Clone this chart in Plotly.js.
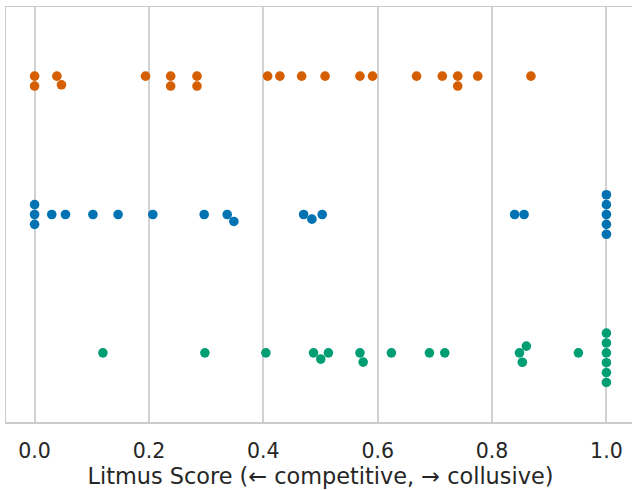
<!DOCTYPE html>
<html><head><meta charset="utf-8">
<script src="https://cdn.plot.ly/plotly-3.0.1.min.js"></script>
<style>html,body{margin:0;padding:0;overflow:hidden;background:#fff}#chart{width:635px;height:490px}</style>
</head><body><div id="chart"></div>
<script>
const categories = ["Group A", "Group B", "Group C"];
const colors = ["#d55e00", "#0173b2", "#029e73"];
const scoresA = [0.0, 0.0, 0.039, 0.047, 0.194, 0.238, 0.238, 0.284, 0.284, 0.4075, 0.429, 0.467, 0.508, 0.569, 0.591, 0.668, 0.713, 0.740, 0.740, 0.775, 0.868];
const scoresB = [0.0, 0.0, 0.0, 0.030, 0.054, 0.102, 0.146, 0.2067, 0.2966, 0.3368, 0.3485, 0.4705, 0.485, 0.503, 0.8395, 0.856, 1.0, 1.0, 1.0, 1.0, 1.0];
const scoresC = [0.1195, 0.2978, 0.4045, 0.4878, 0.5005, 0.5138, 0.569, 0.5746, 0.624, 0.6905, 0.7173, 0.848, 0.853, 0.860, 0.951, 1.0, 1.0, 1.0, 1.0, 1.0, 1.0];
const xTickVals = [0, 0.2, 0.4, 0.6, 0.8, 1.0];
const xTickText = ["0.0", "0.2", "0.4", "0.6", "0.8", "1.0"];
const xTitle = "Litmus Score (\u2190 competitive, \u2192 collusive)";

const W = 635, H = 490, M = {l: 6, r: 0, t: 7, b: 68};
const xRange = [-0.05, 1.05];
const pxPerX = (W - M.l - M.r) / (xRange[1] - xRange[0]);
const pxPerCat = (H - M.t - M.b) / categories.length;
const D = 9.4;

// seaborn-like beeswarm; offsets in display convention (up positive)
function beeswarm(values) {
  const idx = values.map((v, i) => i).sort((a, b) => values[a] - values[b] || a - b);
  const placed = [];
  const offs = new Array(values.length);
  for (const i of idx) {
    const x = values[i] * pxPerX;
    const nb = placed.filter(p => Math.abs(p.x - x) < D);
    const left = [], right = [];
    for (const p of nb) {
      const dx = x - p.x;
      const dy = Math.sqrt(Math.max(D * D - dx * dx, 0)) * 1.05;
      left.push(p.y - dy);
      right.push(p.y + dy);
    }
    const cands = [0].concat(left, right);
    const order = cands.map((c, k) => k).sort((a, b) => (Math.abs(cands[a]) - Math.abs(cands[b])) || (a - b));
    let chosen = 0;
    for (const k of order) {
      const c = cands[k];
      if (nb.every(p => Math.hypot(p.x - x, p.y - c) >= D - 1e-6)) { chosen = c; break; }
    }
    placed.push({x: x, y: chosen});
    offs[i] = chosen;
  }
  return offs;
}

const series = [scoresA, scoresB, scoresC];
const traces = series.map((vals, ci) => {
  const offs = beeswarm(vals);
  return {
    type: "scatter", mode: "markers", name: categories[ci],
    x: vals,
    y: offs.map(o => ci - o / pxPerCat),
    marker: {color: colors[ci], size: 9.6, line: {width: 0}},
    hoverinfo: "x+name"
  };
});

const tickFont = {family: "DejaVu Sans, sans-serif", size: 20.5, color: "#262626"};
const titleFont = {family: "DejaVu Sans, sans-serif", size: 22.4, color: "#262626"};
const layout = {
  width: W, height: H,
  margin: M,
  paper_bgcolor: "#ffffff", plot_bgcolor: "#ffffff",
  showlegend: false,
  font: tickFont,
  xaxis: {
    range: xRange, tickvals: xTickVals, ticktext: xTickText,
    showgrid: true, gridcolor: "#d2d2d2", gridwidth: 2,
    zeroline: false, showline: true, linecolor: "#cccccc", linewidth: 1.5, mirror: true,
    ticks: "", tickfont: tickFont, ticklabelstandoff: 10,
    title: {text: xTitle, font: titleFont, standoff: 3}
  },
  yaxis: {
    range: [categories.length - 0.5, -0.5],
    showgrid: false, zeroline: false, showticklabels: false,
    showline: true, linecolor: "#cccccc", linewidth: 1.5, mirror: true, ticks: ""
  }
};
Plotly.newPlot("chart", traces, layout, {displayModeBar: false, staticPlot: true});
</script>
</body></html>
